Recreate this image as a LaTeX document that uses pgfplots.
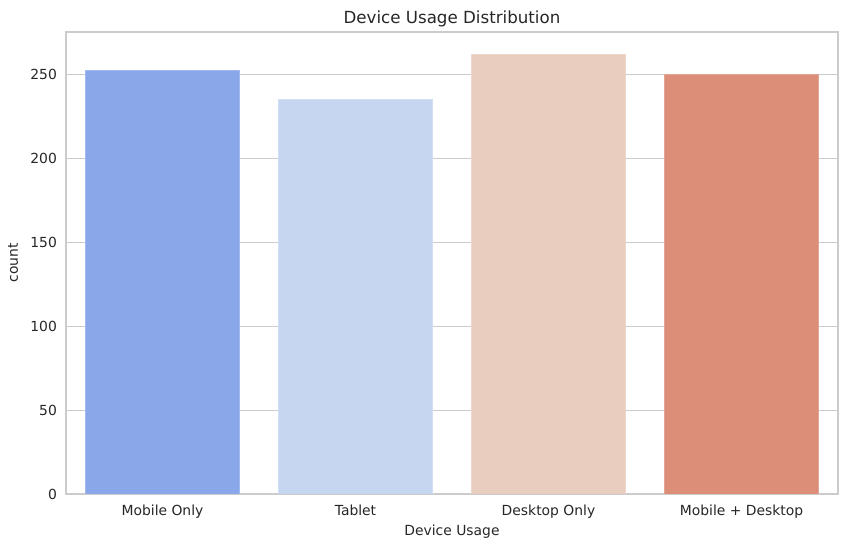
\documentclass[border=0pt]{standalone}
\usepackage{pgfplots}
\pgfplotsset{compat=1.18}
\usepackage{fontspec}
\setmainfont{DejaVu Sans}
\definecolor{c1}{RGB}{138,167,234}
\definecolor{c2}{RGB}{199,214,240}
\definecolor{c3}{RGB}{233,205,191}
\definecolor{c4}{RGB}{220,142,120}
\definecolor{gridc}{RGB}{204,204,204}
\definecolor{txt}{RGB}{38,38,38}
\begin{document}
\begin{tikzpicture}
\begin{axis}[
  ybar,
  bar width=0.8,
  bar shift=0pt,
  name=ax,
  set layers=standard,
  scale only axis,
  width=555.8pt, height=332.6pt,
  xmin=-0.5, xmax=3.5,
  ymin=0, ymax=275.2,
  xtick={0,1,2,3},
  xticklabels={Mobile Only, Tablet, Desktop Only, Mobile + Desktop},
  ytick={0,50,100,150,200,250},
  ymajorgrids,
  grid style={gridc, line width=0.8pt, on layer=axis background},
  axis line style={gridc, line width=0.8pt},
  major tick length=0pt,
  tick label style={font=\fontsize{10}{12}\selectfont, text=txt},
  xticklabel style={yshift=-4pt},
  yticklabel style={xshift=-3pt},
  /pgf/number format/assume math mode=true,
  xlabel={Device Usage}, ylabel={count},
  label style={font=\fontsize{10}{12}\selectfont, text=txt},
  title={Device Usage Distribution},
  title style={font=\fontsize{12}{14}\selectfont, text=txt, yshift=-6pt},
  xlabel style={yshift=1.5pt},
  ylabel style={yshift=2pt},
]
\addplot[fill=c1, draw=c1!80!white, line width=0.5pt] coordinates {(0,252.5)};
\addplot[fill=c2, draw=c2!80!white, line width=0.5pt] coordinates {(1,235)};
\addplot[fill=c3, draw=c3!80!white, line width=0.5pt] coordinates {(2,262)};
\addplot[fill=c4, draw=c4!80!white, line width=0.5pt] coordinates {(3,250)};
\end{axis}
\path ([xshift=-47.5pt,yshift=-38.2pt]ax.south west) rectangle ([xshift=8.64pt,yshift=23.04pt]ax.north east);
\end{tikzpicture}
\end{document}
